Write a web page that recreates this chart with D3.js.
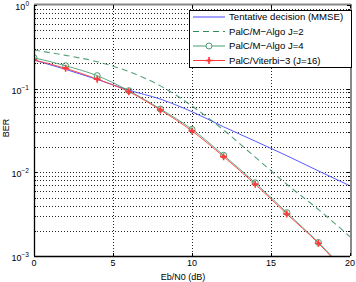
<!DOCTYPE html>
<html>
<head>
<meta charset="utf-8">
<script src="https://cdn.jsdelivr.net/npm/d3@7"></script>
<style>
  body { margin: 0; background: #fff; }
  text { font-family: "Liberation Sans", Arial, sans-serif; font-size: 9px; fill: #000; }
</style>
</head>
<body>
<div id="chart"></div>
<script>
// Eb/N0 grid (dB)
var snr = [0, 2, 4, 6, 8, 10, 12, 14, 16, 18, 20];

// BER series
var berMMSE    = [0.22, 0.17, 0.129, 0.096, 0.075, 0.053, 0.035, 0.0236, 0.0158, 0.0104, 0.0069];
var berMAlgoJ2 = [0.29, 0.25, 0.21, 0.16, 0.108, 0.062, 0.032, 0.0152, 0.0072, 0.0036, 0.0017];
var berMAlgoJ4 = [0.234, 0.188, 0.143, 0.0946, 0.0571, 0.0327, 0.016, 0.0075, 0.0033, 0.00145, 0.00058];
var berViterbi = [0.22, 0.175, 0.130, 0.092, 0.0556, 0.0312, 0.0154, 0.0072, 0.00318, 0.00142, 0.00055];

var xTicks = [0, 5, 10, 15, 20];
var yTicks = [1, 0.1, 0.01, 0.001];
var yExps = ["0", "\u22121", "\u22122", "\u22123"];
var legendNames = ["Tentative decision (MMSE)", "PalC/M\u2212Algo J=2", "PalC/M\u2212Algo J=4", "PalC/Viterbi\u22123 (J=16)"];

drawChart("#chart");

function drawChart(sel) {
  var width = 356, height = 282;
  var m = { left: 34, top: 5, right: 6, bottom: 26 };
  var w = width - m.left - m.right;   // 316
  var h = height - m.top - m.bottom;  // 251

  var colors = ["#4646ff", "#2e8b57", "#4a9d72", "#ff3a3a"];

  var svg = d3.select(sel).append("svg")
    .attr("width", width)
    .attr("height", height);

  var x = d3.scaleLinear().domain([0, 20]).range([0, w]);
  var y = d3.scaleLog().domain([1e-3, 1]).range([h, 0]);

  var g = svg.append("g").attr("transform", "translate(" + m.left + "," + m.top + ")");

  // grid: horizontal at every log tick, vertical at x ticks
  var minor = [];
  [1e-3, 1e-2, 1e-1].forEach(function(d) {
    for (var k = 1; k <= 9; k++) minor.push(d * k);
  });
  minor.push(1);
  g.selectAll(".hgrid").data(minor.filter(function(d) { return d > 1e-3 && d < 1; }))
    .enter().append("line")
    .attr("x1", 0).attr("x2", w)
    .attr("y1", function(d) { return Math.round(y(d)) + 0.5; })
    .attr("y2", function(d) { return Math.round(y(d)) + 0.5; })
    .attr("stroke", "#000").attr("stroke-width", 1)
    .attr("stroke-dasharray", "1,2").attr("opacity", 0.85);

  g.selectAll(".vgrid").data([5, 10, 15])
    .enter().append("line")
    .attr("y1", 0).attr("y2", h)
    .attr("x1", function(d) { return Math.round(x(d)) + 0.5; })
    .attr("x2", function(d) { return Math.round(x(d)) + 0.5; })
    .attr("stroke", "#000").attr("stroke-width", 1)
    .attr("stroke-dasharray", "1,2").attr("opacity", 0.85);

  // clip for curves
  svg.append("clipPath").attr("id", "clip")
    .append("rect").attr("width", w).attr("height", h);

  var line = d3.line()
    .x(function(d) { return x(d[0]); })
    .y(function(d) { return y(d[1]); })
    .curve(d3.curveMonotoneX);

  function pts(arr) { return snr.map(function(s, i) { return [s, arr[i]]; }); }

  var curves = g.append("g").attr("clip-path", "url(#clip)");

  curves.append("path").datum(pts(berMMSE))
    .attr("d", line).attr("fill", "none")
    .attr("stroke", colors[0]).attr("stroke-width", 0.9);

  curves.append("path").datum(pts(berMAlgoJ2))
    .attr("d", line).attr("fill", "none")
    .attr("stroke", colors[1]).attr("stroke-width", 1.1).attr("opacity", 0.8)
    .attr("stroke-dasharray", "6,4");

  curves.append("path").datum(pts(berMAlgoJ4))
    .attr("d", line).attr("fill", "none")
    .attr("stroke", colors[2]).attr("stroke-width", 0.9);

  curves.append("path").datum(pts(berViterbi))
    .attr("d", line).attr("fill", "none")
    .attr("stroke", colors[3]).attr("stroke-width", 0.9);

  // markers (only inside the axes)
  var j4 = pts(berMAlgoJ4).filter(function(d) { return d[1] >= 1e-3; });
  curves.selectAll(".circ").data(j4).enter().append("circle")
    .attr("cx", function(d) { return x(d[0]); })
    .attr("cy", function(d) { return y(d[1]); })
    .attr("r", 3).attr("fill", "none")
    .attr("stroke", colors[2]).attr("stroke-width", 1);

  var vit = pts(berViterbi).filter(function(d) { return d[1] >= 1e-3; });
  var plus = curves.selectAll(".plus").data(vit).enter().append("g")
    .attr("transform", function(d) { return "translate(" + x(d[0]) + "," + y(d[1]) + ")"; });
  plus.append("circle").attr("r", 1.8).attr("fill", colors[3]);
  plus.append("path").attr("d", "M-3.5,0H3.5M0,-3.5V3.5")
    .attr("stroke", colors[3]).attr("stroke-width", 1.6);

  // box: top/right gray, left/bottom black
  g.append("line").attr("x1", 0).attr("x2", w + 1).attr("y1", -0.5).attr("y2", -0.5)
    .attr("stroke", "#888").attr("stroke-width", 2);
  g.append("line").attr("x1", w + 1).attr("x2", w + 1).attr("y1", -1).attr("y2", h)
    .attr("stroke", "#888").attr("stroke-width", 2);
  g.append("line").attr("x1", 0.5).attr("x2", 0.5).attr("y1", 0).attr("y2", h)
    .attr("stroke", "#000").attr("stroke-width", 1.3);
  g.append("line").attr("x1", 0).attr("x2", w).attr("y1", h + 0.5).attr("y2", h + 0.5)
    .attr("stroke", "#000").attr("stroke-width", 1.3);

  // ticks (inward)
  g.selectAll(".xt").data(xTicks).enter().append("path")
    .attr("d", function(d) {
      var px = Math.round(x(d)) + 0.5;
      return "M" + px + "," + h + "v-3M" + px + ",0v3";
    })
    .attr("stroke", "#000");
  g.selectAll(".yt").data(minor).enter().append("path")
    .attr("d", function(d) {
      var py = Math.round(y(d)) + 0.5;
      var len = yTicks.indexOf(d) >= 0 ? 3 : 2;
      return "M0," + py + "h" + len + "M" + w + "," + py + "h-" + len;
    })
    .attr("stroke", "#000");

  // x tick labels
  g.selectAll(".xl").data(xTicks).enter().append("text")
    .attr("x", function(d) { return x(d); })
    .attr("y", h + 10)
    .attr("text-anchor", "middle")
    .text(function(d) { return d; });

  // y tick labels 10^k
  var yl = g.selectAll(".yl").data(yTicks).enter().append("text")
    .attr("x", -5)
    .attr("y", function(d) { return y(d) + 5; })
    .attr("text-anchor", "end");
  yl.append("tspan").text("10");
  yl.append("tspan").attr("dy", -4).style("font-size", "6.5px")
    .text(function(d, i) { return yExps[i]; });

  // axis titles
  svg.append("text").attr("x", 183).attr("y", 280)
    .attr("text-anchor", "middle").text("Eb/N0 (dB)");
  svg.append("text")
    .attr("transform", "translate(9,128) rotate(-90)")
    .attr("text-anchor", "middle").text("BER");

  // legend
  var lg = svg.append("g").attr("transform", "translate(189,10)");
  lg.append("rect").attr("x", 0.5).attr("y", 0.5).attr("width", 162).attr("height", 57)
    .attr("fill", "#fff").attr("stroke", "#000").attr("stroke-width", 1);

  var rows = lg.selectAll(".row").data(legendNames).enter().append("g")
    .attr("transform", function(d, i) { return "translate(0," + (7 + i * 14.5) + ")"; });

  rows.append("line").attr("x1", 4).attr("x2", 36).attr("y1", 0).attr("y2", 0)
    .attr("stroke", function(d, i) { return colors[i]; })
    .attr("stroke-width", function(d, i) { return i === 1 ? 1.1 : 1; })
    .attr("stroke-dasharray", function(d, i) { return i === 1 ? "6,4" : null; });

  rows.filter(function(d, i) { return i === 2; }).append("circle")
    .attr("cx", 20).attr("r", 3).attr("fill", "#fff").attr("stroke", colors[2]);
  var lp = rows.filter(function(d, i) { return i === 3; });
  lp.append("circle").attr("cx", 20).attr("r", 1.8).attr("fill", colors[3]);
  lp.append("path").attr("d", "M16.5,0H23.5M20,-3.5V3.5")
    .attr("stroke", colors[3]).attr("stroke-width", 1.6);

  rows.append("text").attr("x", 40).attr("y", 3.4)
    .style("font-size", "9.6px")
    .text(function(d) { return d; });
}
</script>
</body>
</html>
